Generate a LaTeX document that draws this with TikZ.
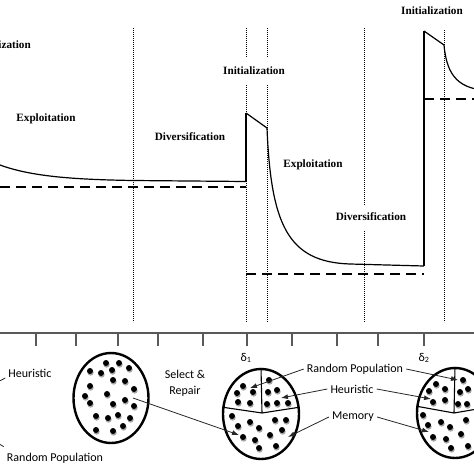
\documentclass[tikz,border=0pt]{standalone}
\usepackage{fontspec}
\setmainfont{Liberation Serif}
\newfontfamily\calibrifont{Carlito}
\usetikzlibrary{arrows.meta, positioning, shapes.geometric}

\begin{document}
\begin{tikzpicture}[
  x=1pt, y=-1pt,
  >={Latex[length=7pt, width=5pt]},
  % Text styles
  phaselabel/.style = {font=\fontsize{11.2}{13}\selectfont\bfseries, inner sep=1pt},
  poplabel/.style   = {font=\calibrifont\fontsize{12}{14}\selectfont, inner sep=3pt},
  % Line styles
  curveline/.style  = {line width=1.2pt},
  jumpline/.style   = {line width=1.8pt},
  boundline/.style  = {line width=1.8pt, dash pattern=on 10pt off 6pt},
  phaseline/.style  = {line width=0.8pt, dash pattern=on 0.9pt off 1.1pt},
  axisline/.style   = {line width=1.4pt, black!65},
  % Population styles
  popellipse/.style = {draw, ellipse, line width=2.4pt, inner sep=0pt,
                       minimum width=76pt, minimum height=90pt},
  divider/.style    = {line width=1.1pt},
  poparrow/.style   = {->, line width=0.8pt, black!85},
  leader/.style     = {line width=0.8pt, black!85},
]

\useasboundingbox (0,0) rectangle (474,474);
\clip (0,0) rectangle (474,474);

% ── Phase labels ───────────────────────────────────────────────────────────────
\node[phaselabel, anchor=east] (init0) at (32,45)  {Initialization};
\node[phaselabel] (expl1) at (46,119)  {Exploitation};
\node[phaselabel] (div1)  at (190,137) {Diversification};
\node[phaselabel] (init1) at (254,71)  {Initialization};
\node[phaselabel] (expl2) at (313,165) {Exploitation};
\node[phaselabel] (div2)  at (371,217) {Diversification};
\node[phaselabel] (init2) at (432,11)  {Initialization};

% ── Phase borders ──────────────────────────────────────────────────────────────
\draw[phaseline] (133,28) -- (133,322);
\draw[phaseline] (246,28) -- (246,57) (246,85) -- (246,322);
\draw[phaseline] (267,28) -- (267,57) (267,85) -- (267,322);
\draw[phaseline] (364,28) -- (364,205) (364,231) -- (364,322);
\draw[phaseline] (444,30) -- (444,322);

% ── Best value and bounds ──────────────────────────────────────────────────────
\draw[boundline] (0,187) -- (246,187);
\draw[boundline] (246,274) -- (424,274);
\draw[boundline] (424,99) -- (480,99);

\draw[curveline] (0,165) .. controls (30,176) and (70,179.5) .. (133,180.5) -- (246,181.5);
\draw[jumpline]  (246,181.5) -- (246,113);
\draw[curveline] (246,113) -- (267,128) .. controls (271,225) and (288,262) .. (350,264) -- (424,266);
\draw[jumpline]  (424,266) -- (424,31);
\draw[curveline] (424,31) -- (444,45) .. controls (447,78) and (460,89) .. (490,91);

% ── Time axis ──────────────────────────────────────────────────────────────────
\draw[axisline] (0,333) -- (474,333);
\foreach \t in {36,76,118,158,203,247,292,337,378,424}
  \draw[axisline] (\t,333) -- (\t,346);

\node[poplabel] (delta1) at (246,358) {δ\textsubscript{1}};
\node[poplabel] (delta2) at (424,358) {δ\textsubscript{2}};

% ── Populations ────────────────────────────────────────────────────────────────
\node[popellipse, minimum width=75pt] (pop1) at (111,398) {};
\node[popellipse] (pop2) at (261,414) {};
\node[popellipse] (pop3) at (455,413) {};

\coordinate (hub2) at (262,413);
\coordinate (hub3) at (454,413);
\draw[divider] (pop2.north) -- (hub2) (pop2.170) -- (hub2) -- (pop2.10);
\draw[divider] (pop3.north) -- (hub3) (pop3.170) -- (hub3) -- (pop3.10);

\foreach \p in {(106,363),(119,363),(129,368),(90,371),(101,373),(112,370),
                (113,380),(125,381),(90,386),(134,389),(85,396),(107,394),
                (125,400),(90,403),(113,404),(134,406),(96,416),(108,418),
                (118,415),(130,418),(96,430),(113,431),(123,426),
                (243,386),(237,393),(253,392),(238,402),(250,403),
                (269,380),(268,392),(277,390),(267,404),(277,403),(288,403),
                (232,416),(250,422),(238,426),(259,428),(275,420),(286,420),
                (282,430),(243,437),(255,440),(270,435),(259,448),(276,446),
                (463,380),(436,384),(429,391),(445,389),(460,392),(468,389),
                (433,402),(445,400),(458,404),(467,404),(423,415),(441,422),
                (428,425),(450,427),(466,420),(433,437),(446,439),(461,434),
                (451,448),(468,446)} {
  \fill[black!35, shift={(0.6,1.6)}] \p circle [radius=3.1];
  \fill \p circle [radius=3];
}

% ── Labels and arrows ──────────────────────────────────────────────────────────
\node[poplabel] (he1) at (30,373) {Heuristic};
\node[poplabel] (rp1) at (55,458) {Random Population};
\node[poplabel, align=center] (select) at (185,383) {Select \&\\[2pt]Repair};

\node[poplabel] (rp2) at (355,369) {Random Population};
\node[poplabel] (he2) at (352,389) {Heuristic};
\node[poplabel] (me2) at (353,417) {Memory};

\coordinate (he1-end) at (-14,388);
\coordinate (rp1-end) at (-14,436);
\draw[leader] ([yshift=-5pt]he1.west) -- (he1-end);
\draw[leader] ([yshift=3pt]rp1.north west) -- (rp1-end);

\coordinate (sel-from) at (133,398);
\coordinate (sel-to)   at (239,435);
\draw[poparrow] (sel-from) -- (sel-to);

\coordinate (rp2-a) at (250,388);
\coordinate (rp2-b) at (458,380);
\coordinate (he2-a) at (281,398);
\coordinate (he2-b) at (431,399);
\coordinate (me2-a) at (288,437);
\coordinate (me2-b) at (429,432);
\draw[poparrow] (rp2.west) -- (rp2-a);
\draw[poparrow] (rp2.east) -- (rp2-b);
\draw[poparrow] (he2.west) -- (he2-a);
\draw[poparrow] (he2.east) -- (he2-b);
\draw[poparrow] (me2.west) -- (me2-a);
\draw[poparrow] (me2.east) -- (me2-b);

\end{tikzpicture}
\end{document}
